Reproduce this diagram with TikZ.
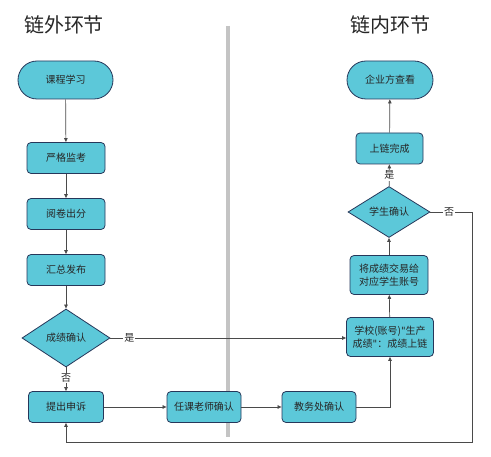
\documentclass[tikz,border=0pt]{standalone}
\usepackage{fontspec}
\setmainfont{Noto Sans CJK SC}
\newfontfamily\quotefont{DejaVu Sans}
\usetikzlibrary{shapes.geometric,arrows.meta}
\definecolor{boxfill}{HTML}{5CC8D9}
\definecolor{boxline}{HTML}{26375A}
\definecolor{conn}{HTML}{4A4A4A}
\definecolor{divider}{HTML}{C4C4C4}
\newcommand{\sq}{{\quotefont\symbol{34}}}
\begin{document}
\begin{tikzpicture}[x=1pt,y=-1pt,
  base/.style={draw=boxline,fill=boxfill,line width=0.8pt,inner sep=1pt,font=\fontsize{10}{13}\selectfont,text=black!85,align=center},
  procbox/.style={base,rectangle,rounded corners=4pt,minimum height=31pt},
  termbox/.style={base,rectangle,rounded corners=19pt,minimum height=38pt},
  decbox/.style={base,diamond,aspect=1.5,inner sep=0pt},
  conn/.style={draw=conn,line width=0.7pt,-{Triangle[length=4pt,width=3.5pt]}},
  lab/.style={fill=white,inner sep=1pt,font=\fontsize{10}{12}\selectfont,text=black!85},
  title/.style={font=\fontsize{20}{24}\selectfont,text=black!85}]
\useasboundingbox (0,0) rectangle (491,457);
\node[title] (t1) at (64,25) {链外环节};
\node[title] (t2) at (390,25) {链内环节};
\draw[divider,line width=3.2pt] (228,26) coordinate (d1) -- (228,437) coordinate (d2);

\node[termbox,minimum width=95pt] (learn) at (65.5,80) {课程学习};
\node[procbox,minimum width=78pt] (exam) at (66,158) {严格监考};
\node[procbox,minimum width=78pt] (grade) at (66,214) {阅卷出分};
\node[procbox,minimum width=78pt] (pub) at (66,270) {汇总发布};
\node[decbox,minimum width=88pt,minimum height=58pt] (conf) at (66,338) {成绩确认};
\node[procbox,minimum width=75pt] (appeal) at (66,407) {提出申诉};
\node[procbox,minimum width=74pt] (teacher) at (204,407) {任课老师确认};
\node[procbox,minimum width=74pt] (office) at (319,407) {教务处确认};
\node[procbox,minimum width=87pt,minimum height=39pt,inner sep=0pt] (school) at (390,337) {学校(账号)\sq 生产\\成绩\sq：成绩上链};
\node[procbox,minimum width=78pt,minimum height=39pt] (trans) at (389,275) {将成绩交易给\\对应学生账号};
\node[decbox,minimum width=82pt,minimum height=51pt] (stu) at (389,212) {学生确认};
\node[procbox,minimum width=67pt] (done) at (389.5,148.5) {上链完成};
\node[termbox,minimum width=86pt] (view) at (390,80) {企业方查看};

\draw[conn] (learn) -- (exam);
\draw[conn] (exam) -- (grade);
\draw[conn] (grade) -- (pub);
\draw[conn] (pub) -- (conf);
\draw[conn] (conf) -- node[lab,pos=0.45] {否} (appeal);
\draw[conn] (conf.east) -- node[lab,pos=0.08] {是} (conf.east -| school.west);
\draw[conn] (appeal) -- (teacher);
\draw[conn] (teacher) -- (office);
\draw[conn] (office.east) -| (school.south);
\draw[conn] (school) -- (trans);
\draw[conn] (trans) -- (stu);
\draw[conn] (stu) -- node[lab,pos=0.5] {是} (done);
\draw[conn] (done) -- (view);
\coordinate (r1) at (472,212);
\coordinate (r2) at (472,442);
\draw[conn] (stu.east) -- node[lab,pos=0.45] {否} (r1) -- (r2) -| (appeal.south);
\end{tikzpicture}
\end{document}
